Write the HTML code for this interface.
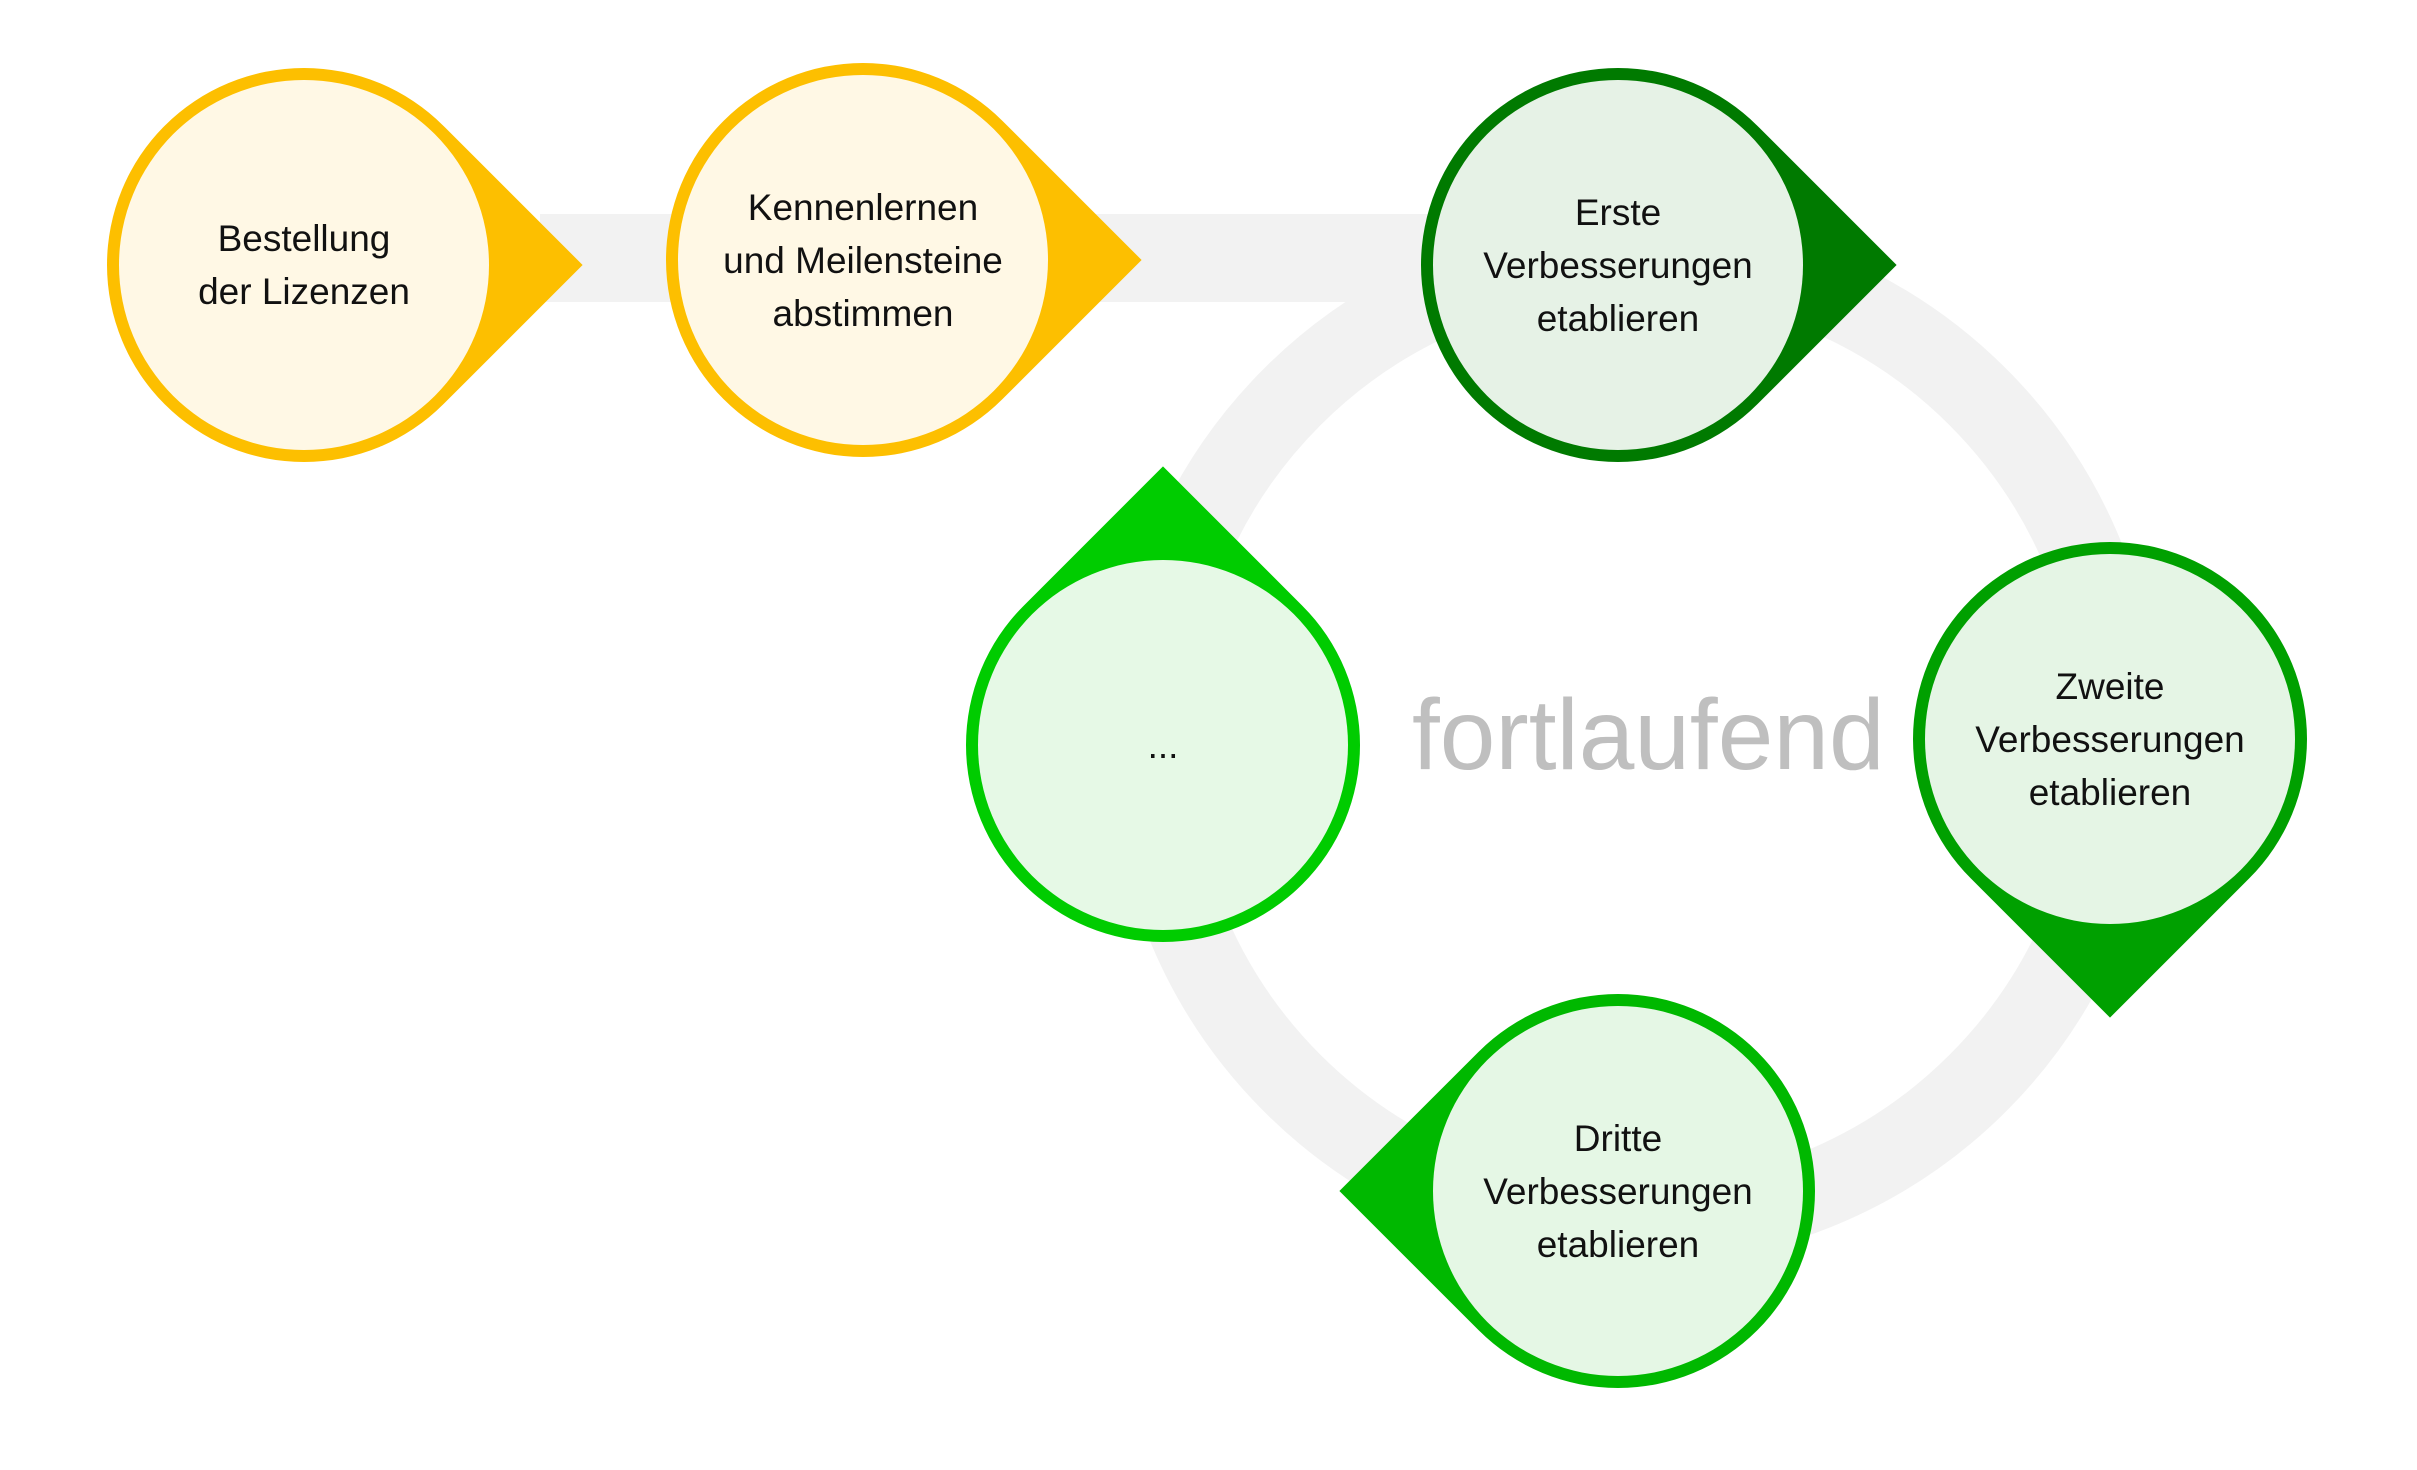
<!DOCTYPE html>
<html><head><meta charset="utf-8"><style>
body{margin:0;width:2417px;height:1452px;background:#fff;position:relative;overflow:hidden;font-family:"Liberation Sans",sans-serif}
.band{position:absolute;left:540px;top:214px;width:900px;height:88px;background:#f2f2f2}
.ring{position:absolute;left:1110px;top:215px;width:1050px;height:1050px;border:80px solid #f2f2f2;border-radius:50%;box-sizing:border-box}
.drop{position:absolute;width:394px;height:394px;border-radius:50% 50% 0 50%}
.in{position:absolute;width:370px;height:370px;border-radius:50%;display:flex;align-items:center;justify-content:center;text-align:center;font-size:37px;line-height:53px;color:#111}
.ft{position:absolute;left:1412px;top:675px;font-size:100px;color:#bfbfbf;line-height:120px}
</style></head><body>
<div class="band"></div>
<div class="ring"></div>

<div class="drop" style="left:107px;top:68px;background:#fdbf00;transform:rotate(-45deg)"></div>
<div class="in" style="left:119px;top:80px;background:#fff8e5">Bestellung<br>der Lizenzen</div>

<div class="drop" style="left:666px;top:63px;background:#fdbf00;transform:rotate(-45deg)"></div>
<div class="in" style="left:678px;top:75px;background:#fff8e5">Kennenlernen<br>und Meilensteine<br>abstimmen</div>

<div class="drop" style="left:1421px;top:68px;background:#007a00;transform:rotate(-45deg)"></div>
<div class="in" style="left:1433px;top:80px;background:#e6f2e6">Erste<br>Verbesserungen<br>etablieren</div>

<div class="drop" style="left:966px;top:548px;background:#00cc00;transform:rotate(-135deg)"></div>
<div class="in" style="left:978px;top:560px;background:#e6f9e6">...</div>

<div class="drop" style="left:1913px;top:542px;background:#00a000;transform:rotate(45deg)"></div>
<div class="in" style="left:1925px;top:554px;background:#e5f5e5">Zweite<br>Verbesserungen<br>etablieren</div>

<div class="drop" style="left:1421px;top:994px;background:#00b800;transform:rotate(135deg)"></div>
<div class="in" style="left:1433px;top:1006px;background:#e5f7e5">Dritte<br>Verbesserungen<br>etablieren</div>

<div class="ft">fortlaufend</div>
</body></html>
